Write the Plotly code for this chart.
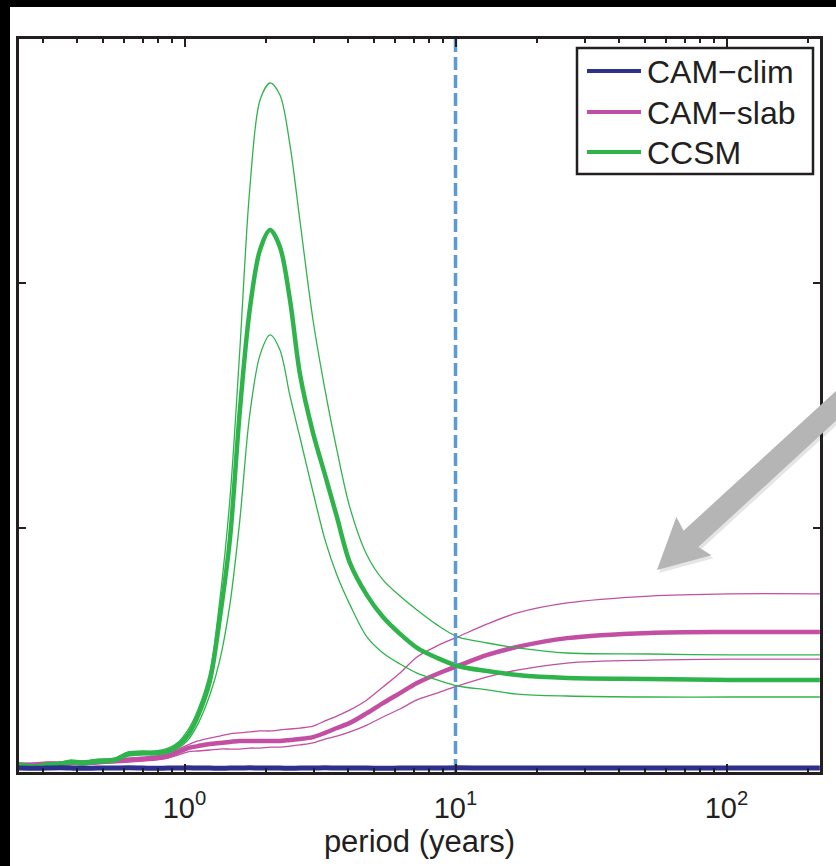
import plotly.graph_objects as go

# ---- data ----
period = [0.245, 0.28, 0.31, 0.35, 0.38, 0.42, 0.48, 0.55, 0.62, 0.70, 0.78, 0.87,
          0.95, 1.03, 1.12, 1.24, 1.35, 1.47, 1.60, 1.74, 1.90, 2.07, 2.25, 2.45,
          2.67, 2.98, 3.30, 3.65, 4.08, 4.71, 5.40, 6.24, 7.21, 8.55, 10.2, 13.1,
          16.9, 25.8, 52, 103, 221]

ccsm = [0.29, 0.20, 0.29, 0.33, 0.41, 0.37, 0.45, 0.49, 0.74, 0.78, 0.78, 0.86,
        1.11, 1.51, 2.29, 3.72, 6.30, 9.50, 14.78, 18.91, 21.37, 22.18, 21.49, 19.32,
        16.25, 13.88, 12.16, 10.44, 8.55, 7.24, 6.34, 5.65, 5.08, 4.67, 4.34, 4.13,
        3.97, 3.85, 3.81, 3.77, 3.77]
ccsm_hi = [0.37, 0.29, 0.37, 0.41, 0.49, 0.45, 0.53, 0.57, 0.82, 0.86, 0.86, 0.98,
           1.23, 1.72, 2.54, 4.09, 7.04, 11.13, 17.27, 23.82, 27.50, 28.20, 27.71, 25.66,
           22.51, 18.50, 15.64, 13.18, 10.81, 8.88, 7.86, 7.20, 6.63, 6.02, 5.53, 5.28,
           5.08, 4.87, 4.83, 4.79, 4.79]
ccsm_lo = [0.20, 0.12, 0.20, 0.25, 0.33, 0.29, 0.37, 0.41, 0.65, 0.70, 0.70, 0.78,
           0.98, 1.31, 1.96, 3.15, 4.58, 6.84, 10.31, 14.61, 17.07, 17.89, 17.27, 15.39,
           13.67, 11.46, 9.50, 8.06, 6.84, 5.53, 4.87, 4.42, 4.05, 3.77, 3.52, 3.36,
           3.19, 3.11, 3.07, 3.07, 3.07]

slab = [0.29, 0.29, 0.33, 0.33, 0.37, 0.37, 0.41, 0.45, 0.49, 0.53, 0.57, 0.65,
        0.82, 0.98, 1.06, 1.15, 1.19, 1.23, 1.27, 1.27, 1.27, 1.27, 1.27, 1.31,
        1.35, 1.43, 1.60, 1.80, 2.01, 2.41, 2.82, 3.23, 3.64, 4.01, 4.34, 4.79,
        5.12, 5.48, 5.69, 5.73, 5.73]
slab_hi = [0.37, 0.37, 0.41, 0.41, 0.45, 0.45, 0.49, 0.53, 0.57, 0.61, 0.65, 0.74,
           0.94, 1.11, 1.27, 1.39, 1.47, 1.56, 1.60, 1.64, 1.68, 1.68, 1.72, 1.76,
           1.80, 1.88, 2.09, 2.29, 2.54, 2.95, 3.48, 4.05, 4.71, 5.16, 5.53, 6.06,
           6.51, 6.92, 7.20, 7.29, 7.29]
slab_lo = [0.20, 0.20, 0.25, 0.25, 0.29, 0.29, 0.33, 0.37, 0.41, 0.45, 0.49, 0.57,
           0.70, 0.82, 0.86, 0.90, 0.94, 0.94, 0.94, 0.98, 0.98, 1.02, 1.02, 1.06,
           1.11, 1.19, 1.35, 1.47, 1.64, 1.92, 2.25, 2.58, 2.95, 3.23, 3.52, 3.89,
           4.17, 4.46, 4.58, 4.62, 4.62]

clim = [0.16, 0.15, 0.16, 0.17, 0.16, 0.15, 0.16, 0.16, 0.17, 0.16, 0.15, 0.16,
        0.16, 0.17, 0.16, 0.16, 0.15, 0.16, 0.16, 0.17, 0.16, 0.16, 0.16, 0.15,
        0.16, 0.16, 0.17, 0.16, 0.16, 0.16, 0.15, 0.16, 0.16, 0.16, 0.17, 0.16,
        0.16, 0.16, 0.16, 0.16, 0.16]

marker_period = 10
y_max = 30
x_tick_vals = [1, 10, 100]
x_tick_text = ["10<sup>0</sup>", "10<sup>1</sup>", "10<sup>2</sup>"]
x_minor_vals = [0.3, 0.4, 0.5, 0.6, 0.7, 0.8, 0.9, 2, 3, 4, 5, 6, 7, 8, 9,
                20, 30, 40, 50, 60, 70, 80, 90, 200]
y_tick_vals = [0, 10, 20, 30]
y_tick_text = ["0", "10", "20", "30"]
legend_names = ["CAM\u2212clim", "CAM\u2212slab", "CCSM"]

# ---- style ----
GREEN = "#2fb44c"
MAG = "#c24fa2"
NAVY = "#2f2f8e"
BLUE = "#5b9bd5"
INK = "#231f20"
FONT = "Liberation Sans, Arial, Helvetica, sans-serif"

W, H = 836, 866
L, R, T, B = 19, 820, 39, 772


def px(x):
    return (x - L) / (R - L)


def py(y):
    return (B - y) / (B - T)


def curve(ys, color, width):
    return go.Scatter(x=period, y=ys, mode="lines",
                      line=dict(color=color, width=width, shape="spline", smoothing=0.9),
                      showlegend=False, hoverinfo="skip")


fig = go.Figure()
for ys, w in [(slab_hi, 1.3), (slab_lo, 1.3), (slab, 4.5)]:
    fig.add_trace(curve(ys, MAG, w))
for ys, w in [(ccsm_hi, 1.3), (ccsm_lo, 1.3), (ccsm, 4.5)]:
    fig.add_trace(curve(ys, GREEN, w))
fig.add_trace(go.Scatter(x=[marker_period, marker_period], y=[0, y_max], mode="lines",
                         line=dict(color=BLUE, width=3.5, dash="13px,5px"),
                         showlegend=False, hoverinfo="skip"))
fig.add_trace(curve(clim, NAVY, 5))

shapes = []
annotations = []

# arrow (decoration)
tip = (657, 570)
d = (36 / 48.8, -33 / 48.8)
n = (-d[1], d[0])
head_len, head_hw, shaft_hw, total = 50, 26, 11, 270


def pt(t, s):
    return (tip[0] + d[0] * t + n[0] * s, tip[1] + d[1] * t + n[1] * s)


poly = [pt(0, 0), pt(head_len, head_hw), pt(head_len - 4, shaft_hw), pt(total, shaft_hw),
        pt(total, -shaft_hw), pt(head_len - 4, -shaft_hw), pt(head_len, -head_hw)]


def path_of(points, dx=0, dy=0):
    return "M " + " L ".join(f"{px(x + dx):.5f},{py(y + dy):.5f}" for x, y in points) + " Z"


shapes.append(dict(type="path", xref="paper", yref="paper", path=path_of(poly, 2, 3),
                   fillcolor="rgba(0,0,0,0.10)", line=dict(width=0), layer="above"))
shapes.append(dict(type="path", xref="paper", yref="paper", path=path_of(poly),
                   fillcolor="#b5b5b5", line=dict(width=0), layer="above"))

# legend box
shapes.append(dict(type="rect", xref="paper", yref="paper", x0=px(577), x1=px(813),
                   y0=py(174), y1=py(48), fillcolor="white",
                   line=dict(color=INK, width=2.5), layer="above"))
rows = [71, 112, 152]
for name, col, yy in zip(legend_names, [NAVY, MAG, GREEN], rows):
    shapes.append(dict(type="line", xref="paper", yref="paper", x0=px(587), x1=px(641),
                       y0=py(yy), y1=py(yy), line=dict(color=col, width=4), layer="above"))
    annotations.append(dict(xref="paper", yref="paper", x=px(645), y=py(yy + 1), text=name,
                            showarrow=False, xanchor="left", yanchor="middle",
                            font=dict(family=FONT, size=32, color=INK)))

# black bands at top and left of the picture
shapes.append(dict(type="rect", xref="paper", yref="paper", x0=px(-5), x1=px(10),
                   y0=py(H + 5), y1=py(-5), fillcolor="black", line=dict(width=0),
                   layer="above"))
shapes.append(dict(type="rect", xref="paper", yref="paper", x0=px(-5), x1=px(W + 5),
                   y0=py(7), y1=py(-5), fillcolor="black", line=dict(width=0),
                   layer="above"))

fig.update_layout(
    width=W, height=H, autosize=False,
    margin=dict(l=L, r=W - R, t=T, b=H - B, pad=0, autoexpand=False),
    paper_bgcolor="white", plot_bgcolor="white",
    showlegend=False,
    shapes=shapes, annotations=annotations,
    font=dict(family=FONT, color=INK),
)
fig.update_xaxes(
    type="log", range=[-0.6107, 2.345], automargin=False,
    tickmode="array", tickvals=x_tick_vals, ticktext=x_tick_text,
    ticks="inside", ticklen=8, tickwidth=2, tickcolor=INK,
    minor=dict(tickmode="array", tickvals=x_minor_vals, ticks="inside", ticklen=4,
               tickwidth=2, tickcolor=INK, showgrid=False),
    showline=True, linecolor=INK, linewidth=2.5, mirror="ticks",
    showgrid=False, zeroline=False,
    tickfont=dict(family=FONT, size=29, color=INK),
    ticklabelstandoff=8,
    title=dict(text="period (years)", font=dict(family=FONT, size=31, color=INK), standoff=4),
)
fig.update_yaxes(
    range=[0, y_max], automargin=False,
    tickmode="array", tickvals=y_tick_vals, ticktext=y_tick_text,
    ticks="inside", ticklen=7, tickwidth=2, tickcolor=INK,
    showline=True, linecolor=INK, linewidth=2.5, mirror="ticks",
    showgrid=False, zeroline=False,
    tickfont=dict(family=FONT, size=29, color=INK),
    ticklabelstandoff=3,
)

fig.write_html("out.html")
